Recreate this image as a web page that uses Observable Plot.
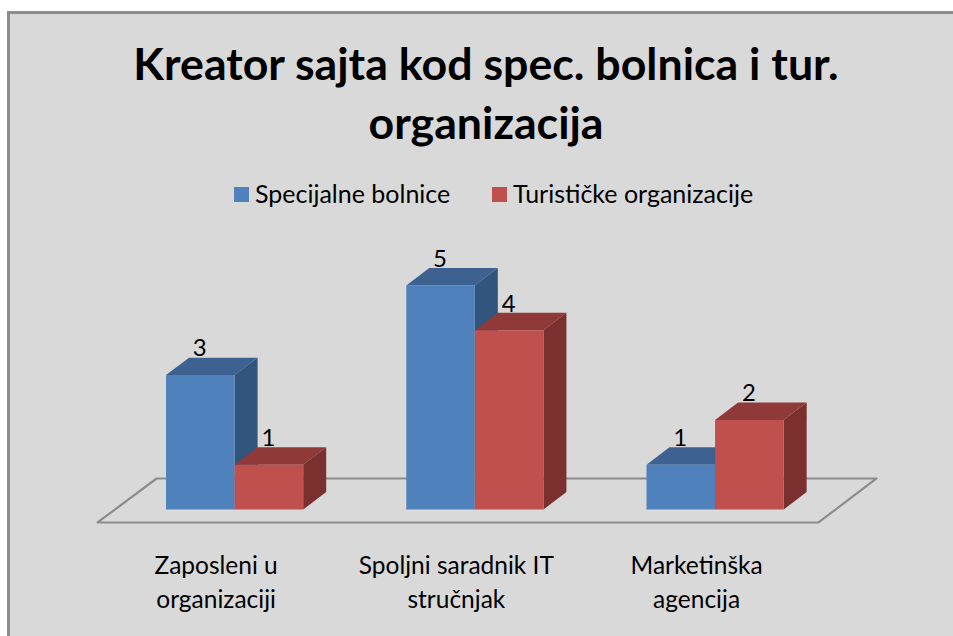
<!DOCTYPE html>
<html><head><meta charset="utf-8">
<script src="https://cdn.jsdelivr.net/npm/d3@7"></script>
<script src="https://cdn.jsdelivr.net/npm/@observablehq/plot@0.6"></script>
<style>
html,body{margin:0;padding:0;background:#fff;width:953px;height:636px;overflow:hidden}
#frame{position:absolute;left:7px;top:11px;width:946px;height:625px;box-sizing:border-box;background:#d9d9d9;border:3px solid #8c8c8c;border-bottom:none;border-right:none}
#title{position:absolute;left:0;top:34px;width:972px;text-align:center;font:bold 44.7px/59px Lato,sans-serif;color:#000}
#legend{position:absolute;top:178px;left:0;width:953px;height:30px;font:25px/30px Lato,sans-serif;color:#000}
#legend span{position:absolute;white-space:nowrap}
#legend i{position:absolute;width:15px;height:15px;top:9px}
#chart{position:absolute;left:0;top:215px}
</style></head><body>
<div id="frame"></div>
<div id="title">Kreator sajta kod spec. bolnica i tur.<br>organizacija</div>
<div id="legend"><i style="left:234px;background:#4f81bd"></i><span style="left:255px">Specijalne bolnice</span><i style="left:492px;background:#c0504d"></i><span style="left:513px">Turističke organizacije</span></div>
<div id="chart"></div>
<script>
const categories = ["Zaposleni u\norganizaciji", "Spoljni saradnik IT\nstručnjak", "Marketinška\nagencija"];
const specijalne = [3, 5, 1];
const turisticke = [1, 4, 2];
const seriesNames = ["Specijalne bolnice", "Turističke organizacije"];

const barWidth = 0.2855, depthX = 0.0957, depthY = 0.39;
const palette = {
  0: {front: "#4f81bd", top: "#3d6291", side: "#32557d"},
  1: {front: "#c0504d", top: "#8f3a38", side: "#7a302e"}
};
const bars = [];
categories.forEach((c, i) => {
  [specijalne[i], turisticke[i]].forEach((v, s) => {
    bars.push({i, s, v, x1: i + (s - 1) * barWidth, x2: i + s * barWidth});
  });
});
// Draw order: each bar's faces, series by series inside a group
const faces = bars.flatMap((b, n) => {
  const {x1, x2, v} = b, c = palette[b.s];
  const poly = (name, fill, pts) => pts.map(([x, y]) => ({id: n + name, fill, x, y}));
  return [
    ...poly("top", c.top, [[x1, v], [x2, v], [x2 + depthX, v + depthY], [x1 + depthX, v + depthY]]),
    ...poly("side", c.side, [[x2, 0], [x2, v], [x2 + depthX, v + depthY], [x2 + depthX, depthY]]),
    ...poly("front", c.front, [[x1, 0], [x2, 0], [x2, v], [x1, v]])
  ];
});
const floor = [
  {x: -0.5706, y: -0.29}, {x: 2.4305, y: -0.29}, {x: 2.672, y: 0.692}, {x: -0.3249, y: 0.692}
];
const labels = bars.map(b => ({x: (b.x1 + b.x2) / 2, y: b.v + depthY, v: b.v}));

const plot = Plot.plot({
  width: 953, height: 421,
  marginLeft: 114, marginRight: 118.3, marginTop: 0, marginBottom: 85.5,
  style: {background: "transparent", overflow: "visible"},
  x: {domain: [-0.5, 2.5], range: [114, 834.7]},
  y: {domain: [0, 5], range: [294, 70], axis: null},
  marks: [
    Plot.line(floor, {x: "x", y: "y", curve: "linear-closed", stroke: "#8c8c8c", strokeWidth: 2.2, fill: "none"}),
    Plot.line(faces, {x: "x", y: "y", z: "id", fill: d => d.fill, stroke: "none", curve: "linear-closed"}),
    Plot.text(labels, {x: "x", y: "y", text: "v", dx: -0.5, dy: -9, fontSize: 24, fontFamily: "Lato, sans-serif", fill: "#000"}),
    Plot.axisX({
      ticks: [0, 1, 2], tickFormat: i => categories[i], tickSize: 0, tickPadding: 0,
      dx: -18.5, fontSize: 24.5, fontFamily: "Lato, sans-serif", lineHeight: 1.35, fill: "#000", label: null
    })
  ]
});
document.getElementById("chart").append(plot);
</script>
</body></html>
